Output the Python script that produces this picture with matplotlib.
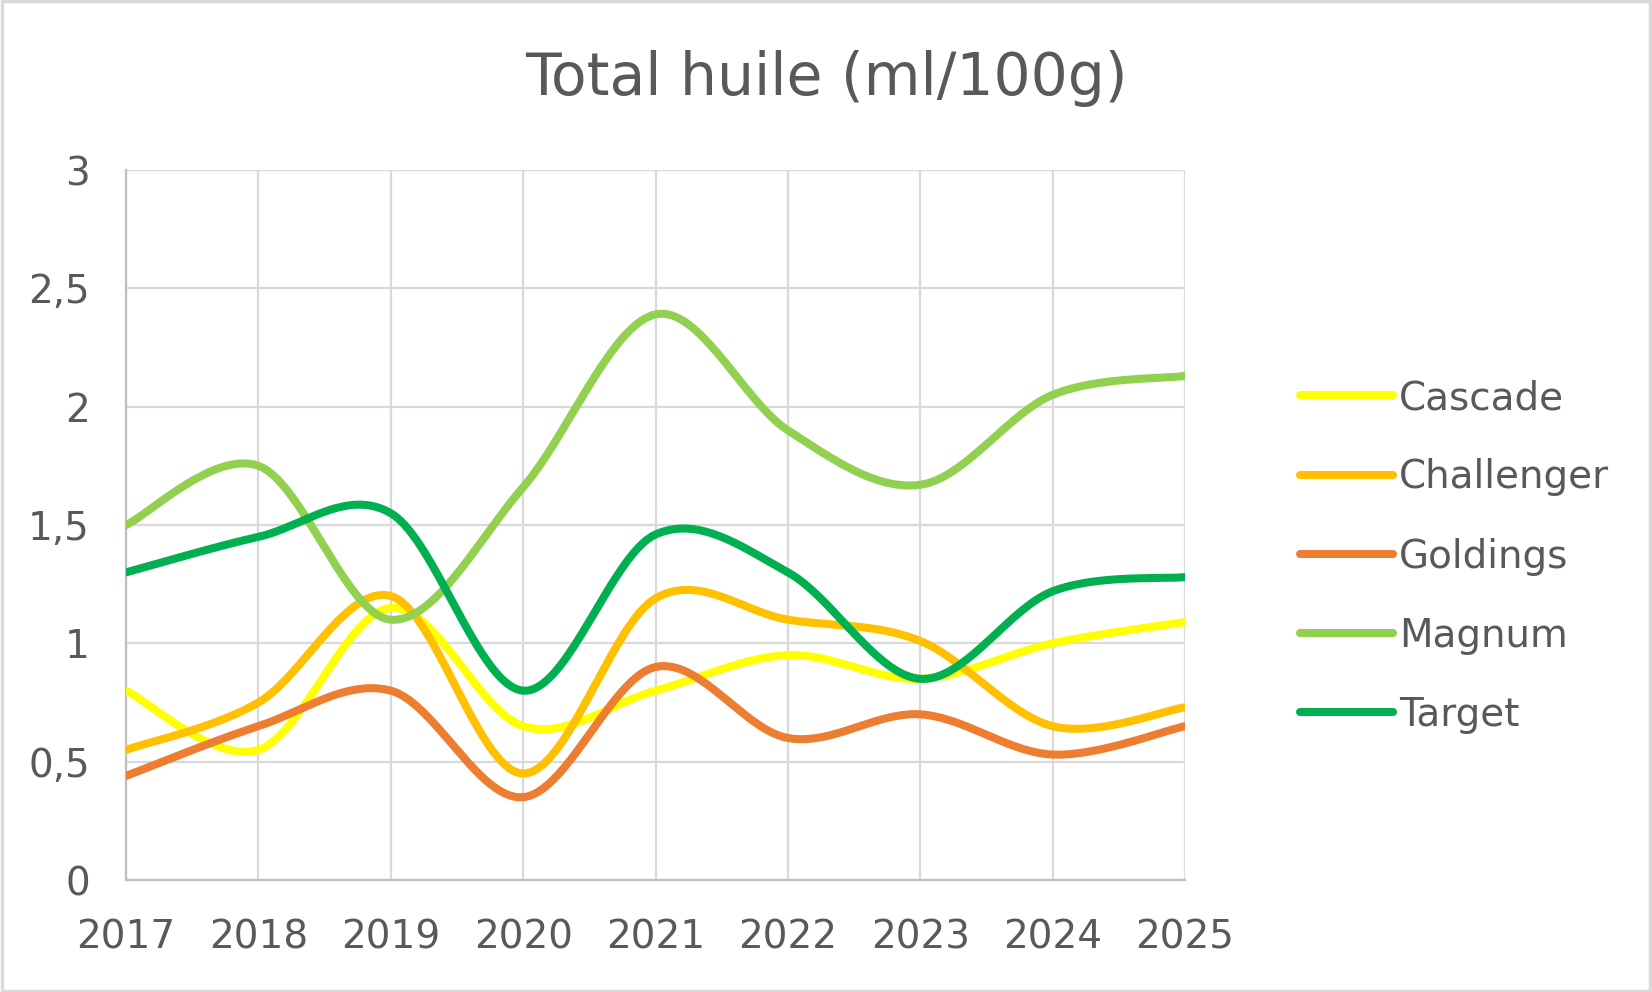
import numpy as np
import matplotlib
matplotlib.use("Agg")
import matplotlib.pyplot as plt
from matplotlib.patches import Rectangle

years = [2017, 2018, 2019, 2020, 2021, 2022, 2023, 2024, 2025]

cascade = [0.80, 0.55, 1.15, 0.65, 0.80, 0.95, 0.85, 1.00, 1.09]
challenger = [0.55, 0.75, 1.20, 0.45, 1.19, 1.10, 1.01, 0.65, 0.73]
goldings = [0.44, 0.65, 0.80, 0.35, 0.90, 0.60, 0.70, 0.53, 0.65]
magnum = [1.50, 1.75, 1.10, 1.66, 2.39, 1.90, 1.67, 2.05, 2.13]
target = [1.30, 1.45, 1.55, 0.80, 1.46, 1.30, 0.85, 1.22, 1.28]

series_names = ["Cascade", "Challenger", "Goldings", "Magnum", "Target"]
series_values = [cascade, challenger, goldings, magnum, target]
colors = ["#FFFF00", "#FFC000", "#ED7D31", "#92D050", "#00B050"]

TEXT = "#595959"
GRID = "#D9D9D9"


def smooth(xs, ys, n=40):
    # Excel-style smoothed line: Catmull-Rom turned into cubic Bezier pieces
    x = np.asarray(xs, float)
    y = np.asarray(ys, float)
    px = np.concatenate([[x[0]], x, [x[-1]]])
    py = np.concatenate([[y[0]], y, [y[-1]]])
    t = np.linspace(0, 1, n)
    out_x, out_y = [], []
    for i in range(1, len(px) - 2):
        p0 = np.array([px[i], py[i]])
        p3 = np.array([px[i + 1], py[i + 1]])
        p1 = p0 + (p3 - np.array([px[i - 1], py[i - 1]])) / 6
        p2 = p3 - (np.array([px[i + 2], py[i + 2]]) - p0) / 6
        b = ((1 - t) ** 3)[:, None] * p0 + (3 * (1 - t) ** 2 * t)[:, None] * p1 \
            + (3 * (1 - t) * t ** 2)[:, None] * p2 + (t ** 3)[:, None] * p3
        out_x.extend(b[:, 0])
        out_y.extend(b[:, 1])
    return out_x, out_y


fig = plt.figure(figsize=(16.52, 9.92), dpi=100)
ax = fig.add_axes([0.0763, 0.1129, 0.7173 - 0.0763, 0.8286 - 0.1129])

for name, vals, c in zip(series_names, series_values, colors):
    sx, sy = smooth(years, vals)
    ax.plot(sx, sy, color=c, lw=5.8, solid_capstyle="round", label=name, zorder=3)

ax.set_xlim(years[0], years[-1])
ax.set_ylim(0, 3)
ax.set_xticks(years)
ax.set_yticks([0, 0.5, 1, 1.5, 2, 2.5, 3])
ax.set_yticklabels(["0", "0,5", "1", "1,5", "2", "2,5", "3"])
ax.grid(True, color=GRID, lw=1.6, zorder=0)
ax.tick_params(length=0, labelsize=28, colors=TEXT)
ax.tick_params(axis="y", pad=26)
ax.tick_params(axis="x", pad=28)
for s in ["top", "right"]:
    ax.spines[s].set_visible(False)
for s in ["left", "bottom"]:
    ax.spines[s].set_color("#BFBFBF")
    ax.spines[s].set_linewidth(1.6)

fig.text(0.5, 0.921, "Total huile (ml/100g)", ha="center", va="center",
         fontsize=42, color=TEXT)

leg = ax.legend(loc="center left", bbox_to_anchor=(0.787, 0.439),
                bbox_transform=fig.transFigure, frameon=False, fontsize=28,
                handlelength=2.4, handletextpad=0.15, labelspacing=1.06,
                borderpad=0, borderaxespad=0)
for t in leg.get_texts():
    t.set_color(TEXT)

fig.patches.append(Rectangle((0.001, 0.001), 0.998, 0.998, transform=fig.transFigure,
                             fill=False, ec=GRID, lw=2.5))

fig.savefig("out.png", dpi=100, facecolor="white")
